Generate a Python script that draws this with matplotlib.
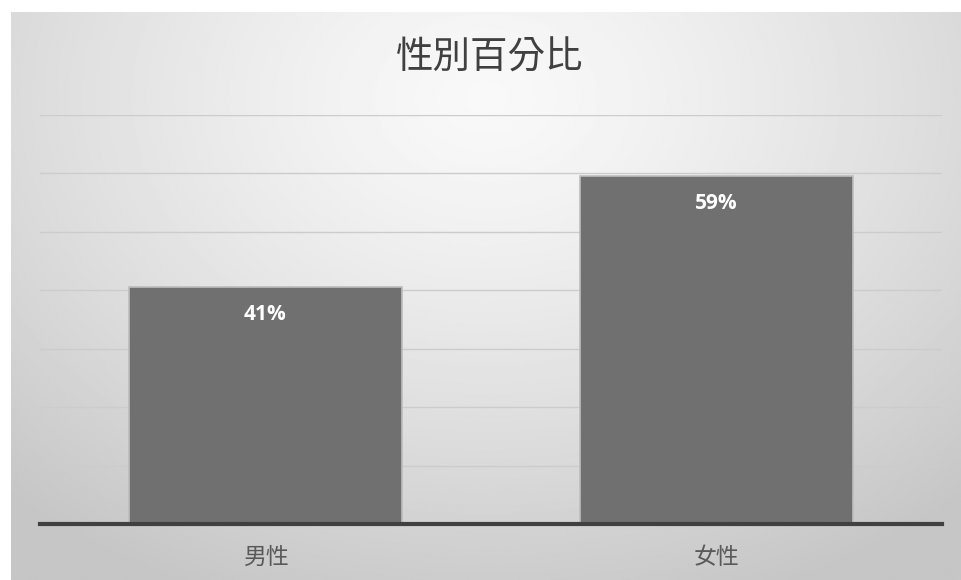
import numpy as np
import matplotlib.pyplot as plt

# ==============================
# DATA
# ==============================
categories = ["男性", "女性"]
values = [0.405, 0.595]
labels = ["41%", "59%"]
title = "性別百分比"

plt.rcParams['font.family'] = ['Noto Sans CJK TC', 'DejaVu Sans']

W, H = 962, 580
fig = plt.figure(figsize=(W / 100, H / 100), dpi=100)
fig.patch.set_facecolor("white")

# background panel with radial gray gradient
bg = fig.add_axes([11 / W, 0, 1 - 11 / W, 1 - 12 / H])
yy, xx = np.mgrid[0:1:300j, 0:1:500j]
d = np.sqrt(((xx - 0.5) / 0.75) ** 2 + ((yy - 0.15) / 0.95) ** 2)
shade = 0.975 - 0.2 * np.clip(d, 0, 1) ** 1.3
bg.imshow(shade, cmap="gray", vmin=0, vmax=1, aspect="auto",
          extent=[0, 1, 1, 0], interpolation="bilinear")
bg.set_axis_off()

# plot area
ax = fig.add_axes([40 / W, (H - 524) / H, 902 / W, (524 - 115) / H])
ax.patch.set_alpha(0)
x = np.arange(len(categories))
bars = ax.bar(x, values, width=0.604, color="#707070",
              edgecolor="#bdbdbd", linewidth=1.2, zorder=3)

for b, lab in zip(bars, labels):
    ax.text(b.get_x() + b.get_width() / 2, b.get_height() - 0.046, lab,
            ha="center", va="center", color="white", fontsize=15,
            fontweight="bold", family=["Open Sans", "DejaVu Sans"], zorder=4)

ax.set_xlim(-0.5, 1.5)
ax.set_ylim(0, 0.7)
ax.set_yticks(np.arange(0.1, 0.71, 0.1))
ax.yaxis.grid(True, color="#cccccc", linewidth=1, zorder=0)
ax.tick_params(axis="y", length=0, labelleft=False)
ax.tick_params(axis="x", length=0, pad=16, labelsize=16.5, labelcolor="#595959")
ax.set_xticks(x)
ax.set_xticklabels(categories)
for s in ["top", "right", "left"]:
    ax.spines[s].set_visible(False)
ax.spines["bottom"].set_color("#404040")
ax.spines["bottom"].set_linewidth(3)
ax.spines["bottom"].set_zorder(5)

fig.text(490 / W, 1 - 58 / H, title, ha="center", va="center",
         fontsize=27, color="#404040")

plt.savefig("out.png", dpi=100)
plt.close()
